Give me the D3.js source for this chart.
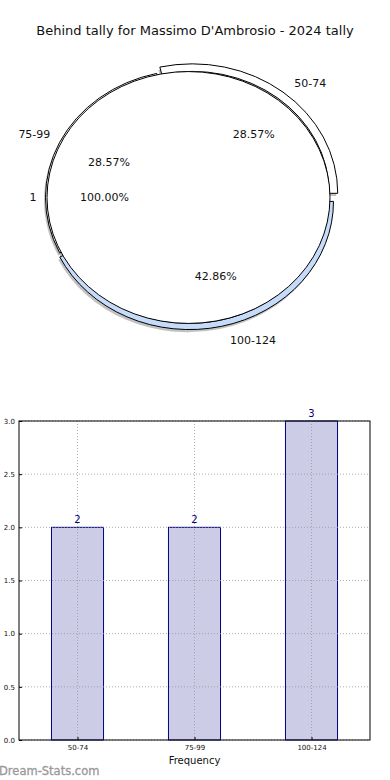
<!DOCTYPE html>
<html>
<head>
<meta charset="utf-8">
<script src="https://cdn.jsdelivr.net/npm/d3@7"></script>
<style>
  body { margin: 0; background: #fff; }
  svg { display: block; font-family: "DejaVu Sans", sans-serif; }
</style>
</head>
<body>
<div id="chart"></div>
<script>
// data
let ranges = ["50-74", "75-99", "100-124"];
let counts = [2, 2, 3];
let innerLabels = ["1"];
let innerCounts = [1];
let yTicks = [0, 0.5, 1, 1.5, 2, 2.5, 3];
let ringColours = ["#ffffff", "#ffffff", "#c6dbfa"];
let explode = [6, 0, 4.5];

let titleText = "Behind tally for Massimo D'Ambrosio - 2024 tally";

const width = 390, height = 780;

var svg = d3.select("#chart")
    .append("svg")
    .attr("width", width)
    .attr("height", height);

svg.append("text")
    .attr("x", 195)
    .attr("y", 35)
    .attr("text-anchor", "middle")
    .attr("font-size", 13)
    .attr("fill", "#111")
    .text(titleText);

// ---- pie part (elliptical, like the stretched matplotlib axes) ----
let cx = 188.5, cy = 197.5;
let rInner = 141.5;
let rRingIn = 137;
let ringOut = [145.5, 143, 144];
let sy = 0.89;

// matplotlib goes counter-clockwise from 3 o'clock
var pie = d3.pie().sort(null)
    .startAngle(Math.PI / 2)
    .endAngle(Math.PI / 2 - 2 * Math.PI);

let outerArcs = pie(counts);
let innerArcs = pie(innerCounts);
let total = d3.sum(counts);

function ringArc(d, i) {
    return d3.arc().innerRadius(rRingIn).outerRadius(ringOut[i])(d);
}
var innerArc = d3.arc().innerRadius(0).outerRadius(rInner);

function mid(d) { return (d.startAngle + d.endAngle) / 2; }
function shift(d, i) {
    return "translate(" + Math.sin(mid(d)) * explode[i] + "," + (-Math.cos(mid(d)) * explode[i]) + ")";
}

let pieG = svg.append("g")
    .attr("transform", "translate(" + cx + "," + cy + ") scale(1," + sy + ")");

// shadows
let shadowG = pieG.append("g").attr("transform", "translate(-1.5,3)");
shadowG.selectAll("path.ring")
    .data(outerArcs)
    .enter().append("path")
    .attr("d", ringArc)
    .attr("transform", shift)
    .attr("fill", "#666")
    .attr("opacity", 0.4);
shadowG.append("path")
    .attr("d", innerArc(innerArcs[0]))
    .attr("fill", "#666")
    .attr("opacity", 0.4);

pieG.selectAll("path.ring")
    .data(outerArcs)
    .enter().append("path")
    .attr("class", "ring")
    .attr("d", ringArc)
    .attr("transform", shift)
    .attr("fill", (d, i) => ringColours[i])
    .attr("stroke", "#000")
    .attr("stroke-width", 1)
    .attr("vector-effect", "non-scaling-stroke");

pieG.append("path")
    .attr("d", innerArc(innerArcs[0]))
    .attr("fill", "#fff")
    .attr("stroke", "#000")
    .attr("stroke-width", 1)
    .attr("vector-effect", "non-scaling-stroke");

// labels
let labCx = cx + 6;
let labLx = 160, labLy = 146;
let pctLx = 95, pctLy = 81;

svg.selectAll("text.rangeLabel")
    .data(outerArcs)
    .enter().append("text")
    .attr("x", d => labCx + Math.sin(mid(d)) * labLx)
    .attr("y", d => cy - Math.cos(mid(d)) * labLy)
    .attr("dy", "0.35em")
    .attr("text-anchor", d => Math.sin(mid(d)) > 0 ? "start" : "end")
    .attr("font-size", 11)
    .attr("fill", "#111")
    .text((d, i) => ranges[i]);

svg.selectAll("text.pct")
    .data(outerArcs)
    .enter().append("text")
    .attr("x", d => labCx + Math.sin(mid(d)) * pctLx)
    .attr("y", d => cy - Math.cos(mid(d)) * pctLy)
    .attr("dy", "0.35em")
    .attr("text-anchor", "middle")
    .attr("font-size", 11)
    .attr("fill", "#111")
    .text(d => (d.value / total * 100).toFixed(2) + "%");

svg.append("text")
    .attr("x", cx + Math.sin(mid(innerArcs[0])) * 152)
    .attr("y", cy - Math.cos(mid(innerArcs[0])) * 152)
    .attr("dy", "0.35em")
    .attr("text-anchor", "end")
    .attr("font-size", 11)
    .attr("fill", "#111")
    .text(innerLabels[0]);

svg.append("text")
    .attr("x", cx + Math.sin(mid(innerArcs[0])) * 84)
    .attr("y", cy)
    .attr("dy", "0.35em")
    .attr("text-anchor", "middle")
    .attr("font-size", 11)
    .attr("fill", "#111")
    .text((innerArcs[0].value / d3.sum(innerCounts) * 100).toFixed(2) + "%");

// ---- bar part ----
let plotL = 19, plotR = 370, plotT = 421, plotB = 740;

var x = d3.scaleLinear().domain([-0.5, ranges.length - 0.5]).range([plotL, plotR]);
var y = d3.scaleLinear().domain([0, 3]).range([plotB, plotT]);
let barW = 0.445;

let barG = svg.append("g");

barG.selectAll("rect.bar")
    .data(counts)
    .enter().append("rect")
    .attr("x", (d, i) => x(i - barW / 2))
    .attr("y", d => y(d))
    .attr("width", x(barW) - x(0))
    .attr("height", d => plotB - y(d))
    .attr("fill", "#cccce6")
    .attr("stroke", "#000080")
    .attr("stroke-width", 1);

// dotted grid over the bars
barG.selectAll("line.vgrid")
    .data(ranges)
    .enter().append("line")
    .attr("x1", (d, i) => x(i)).attr("x2", (d, i) => x(i))
    .attr("y1", plotT).attr("y2", plotB)
    .attr("stroke", "#999")
    .attr("stroke-opacity", 0.8)
    .attr("stroke-dasharray", "1,2");
barG.selectAll("line.hgrid")
    .data(yTicks)
    .enter().append("line")
    .attr("x1", plotL).attr("x2", plotR)
    .attr("y1", d => y(d)).attr("y2", d => y(d))
    .attr("stroke", "#999")
    .attr("stroke-opacity", 0.8)
    .attr("stroke-dasharray", "1,2");

barG.selectAll("text.val")
    .data(counts)
    .enter().append("text")
    .attr("x", (d, i) => x(i))
    .attr("y", d => y(d) - 4)
    .attr("text-anchor", "middle")
    .attr("font-size", 10)
    .attr("fill", "#000080")
    .text(d => d);

// frame
barG.append("rect")
    .attr("x", plotL).attr("y", plotT)
    .attr("width", plotR - plotL).attr("height", plotB - plotT)
    .attr("fill", "none")
    .attr("stroke", "#000")
    .attr("stroke-width", 1);

// axes
var yAxis = d3.axisLeft(y).tickValues(yTicks).tickFormat(d3.format(".1f")).tickSize(-3).tickPadding(4);
var yg = svg.append("g").attr("transform", "translate(" + plotL + ",0)").call(yAxis);
yg.select(".domain").remove();
yg.selectAll("text").attr("font-size", 7).attr("fill", "#111").attr("font-family", "DejaVu Sans");

var xAxis = d3.axisBottom(x).tickValues(d3.range(ranges.length)).tickFormat(i => ranges[i]).tickSize(-3).tickPadding(5);
var xg = svg.append("g").attr("transform", "translate(0," + plotB + ")").call(xAxis);
xg.select(".domain").remove();
xg.selectAll("text").attr("font-size", 7).attr("fill", "#111").attr("font-family", "DejaVu Sans");

svg.append("text")
    .attr("x", x(1))
    .attr("y", 764)
    .attr("text-anchor", "middle")
    .attr("font-size", 10)
    .attr("fill", "#111")
    .text("Frequency");

svg.append("text")
    .attr("x", -1)
    .attr("y", 775)
    .attr("font-size", 11.5)
    .attr("fill", "#999")
    .attr("stroke", "#999")
    .attr("stroke-width", 0.3)
    .text("Dream-Stats.com");
</script>
</body>
</html>
